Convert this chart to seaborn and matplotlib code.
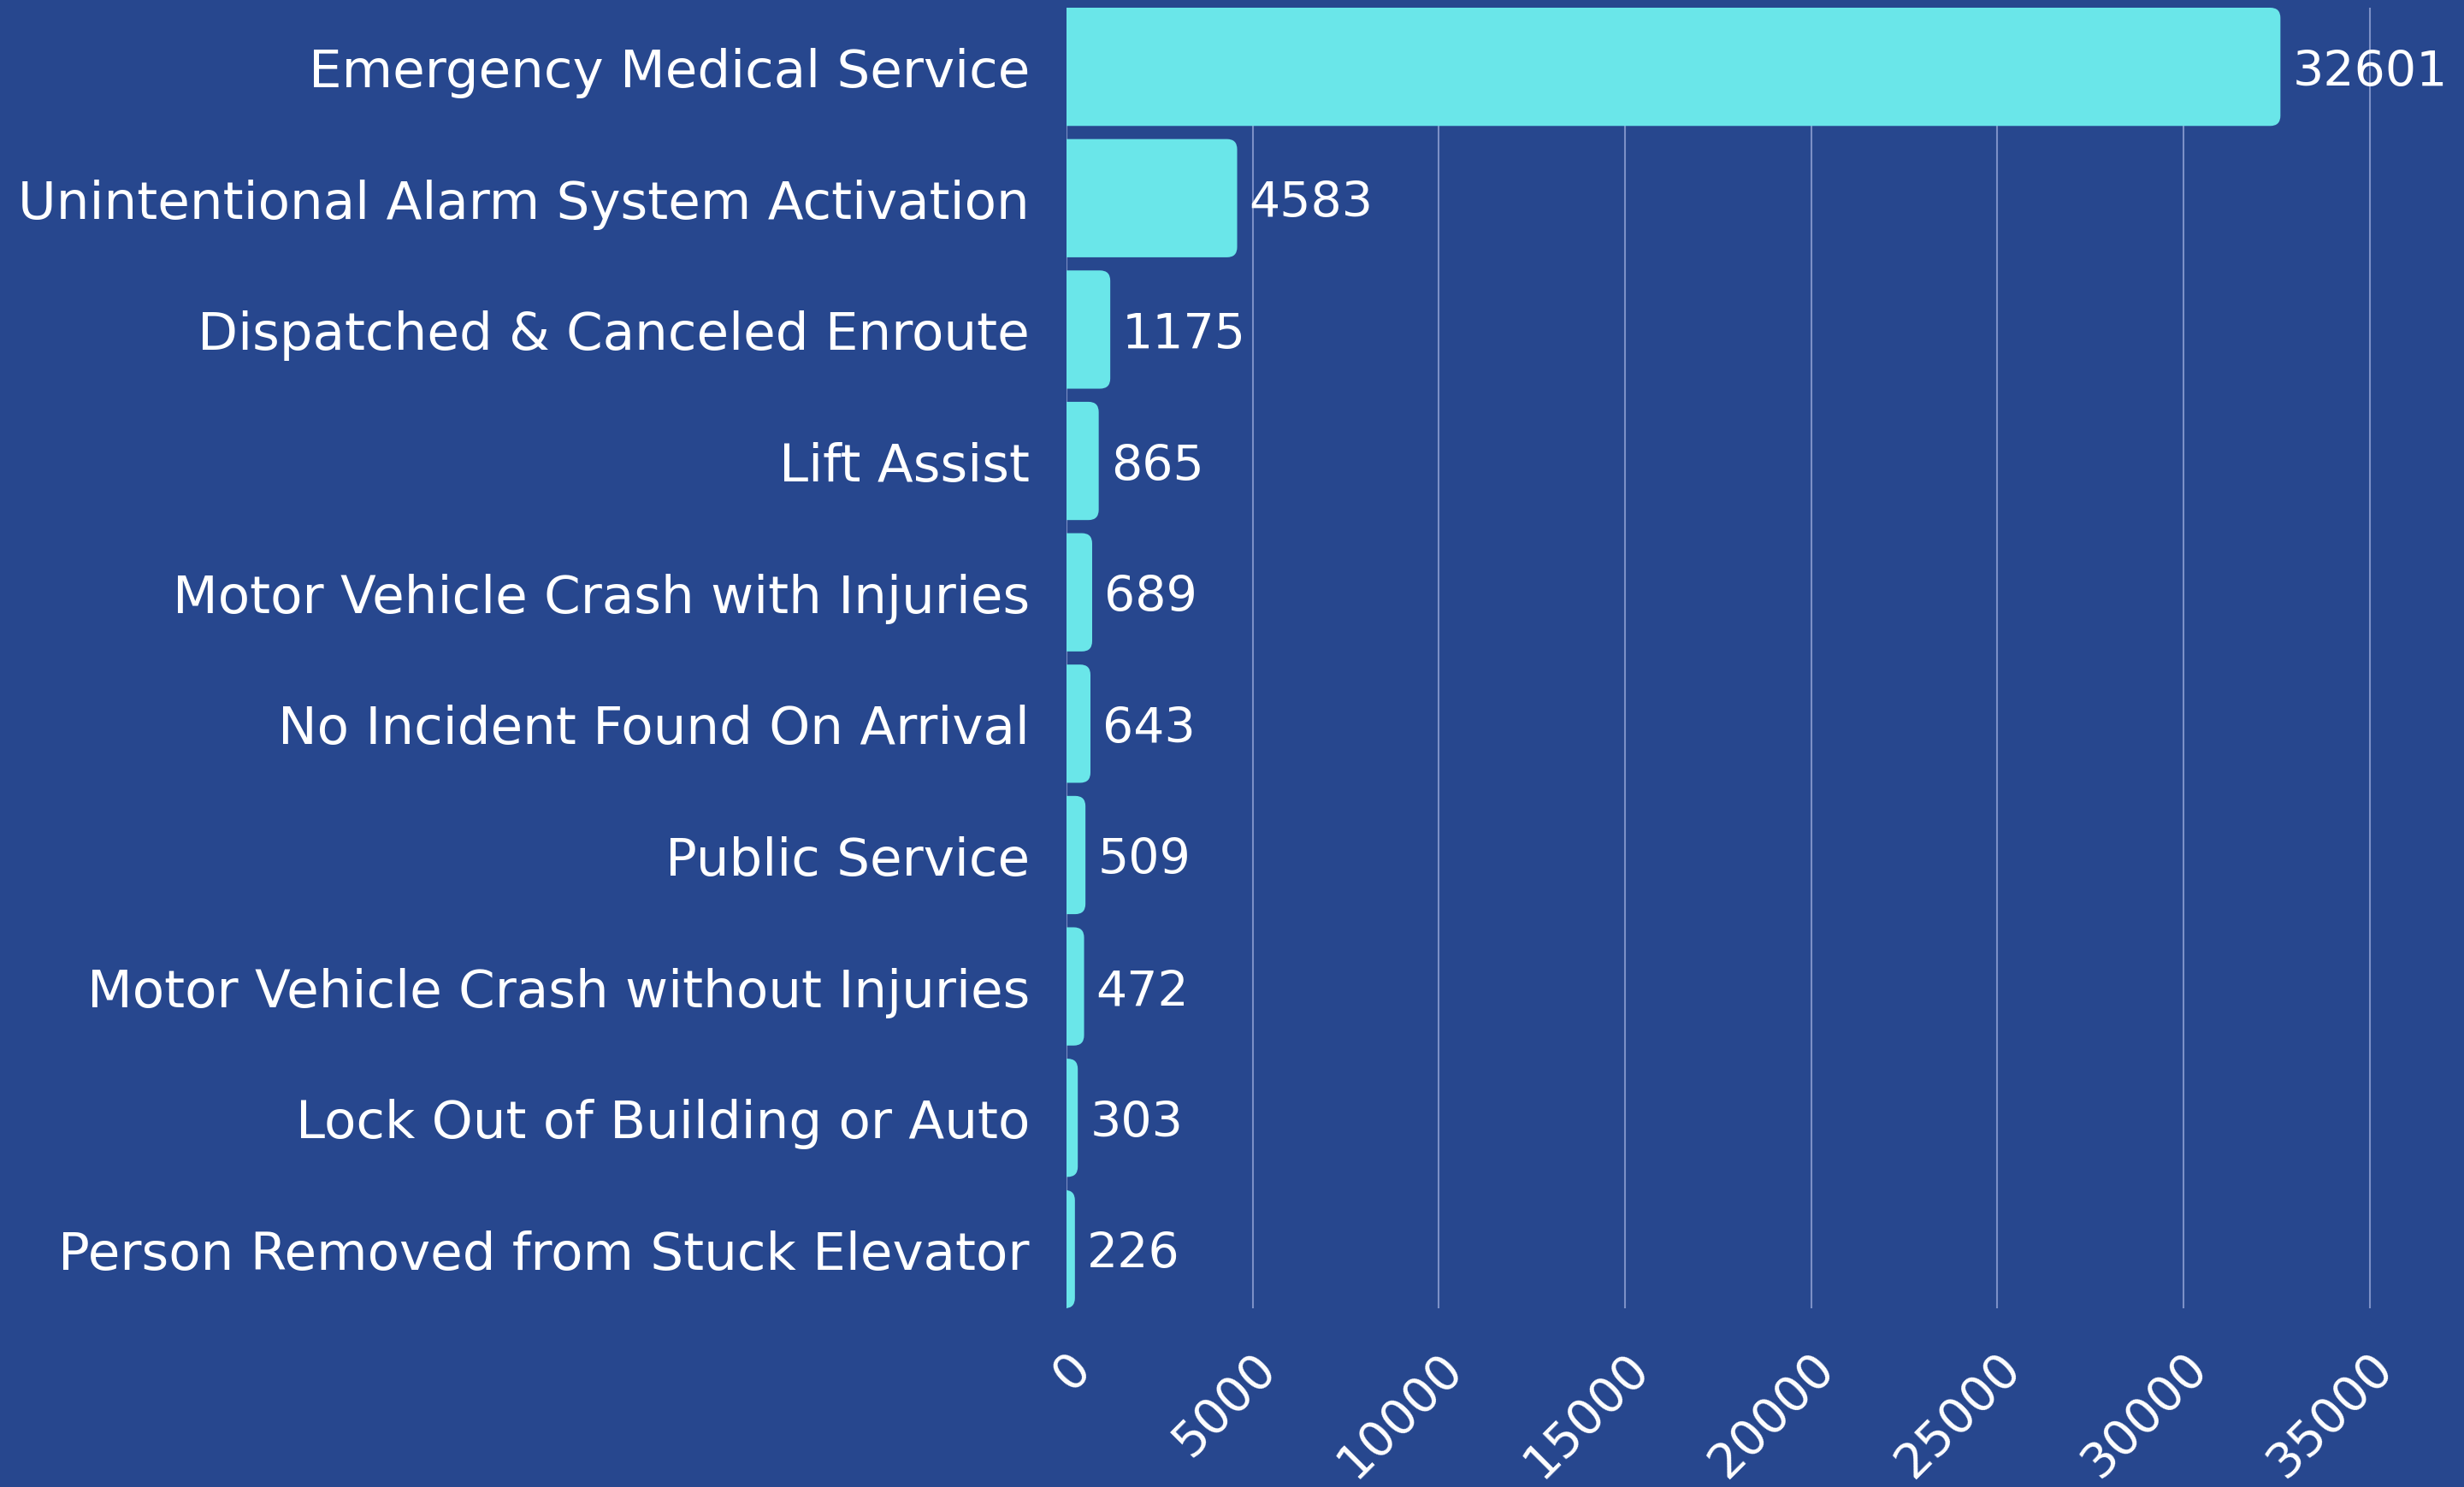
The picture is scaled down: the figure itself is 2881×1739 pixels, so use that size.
import matplotlib
matplotlib.use("Agg")
import matplotlib.pyplot as plt
import seaborn as sns
import pandas as pd
from matplotlib.patches import FancyBboxPatch

categories = [
    "Emergency Medical Service",
    "Unintentional Alarm System Activation",
    "Dispatched & Canceled Enroute",
    "Lift Assist",
    "Motor Vehicle Crash with Injuries",
    "No Incident Found On Arrival",
    "Public Service",
    "Motor Vehicle Crash without Injuries",
    "Lock Out of Building or Auto",
    "Person Removed from Stuck Elevator",
]
counts = [32601, 4583, 1175, 865, 689, 643, 509, 472, 303, 226]
x_ticks = [0, 5000, 10000, 15000, 20000, 25000, 30000, 35000]

BG = "#27478E"
BAR = "#6AE6E9"
GRID = "#7C90C6"

sns.set_theme(style="white")
plt.rcParams["font.family"] = ["DejaVu Sans"]

df = pd.DataFrame({"category": categories, "count": counts})

fig = plt.figure(figsize=(28.81, 17.40), dpi=100, facecolor=BG)
ax = fig.add_axes([1247 / 2881, 1 - 1531 / 1740, 1600 / 2881, 1521 / 1740])
ax.set_facecolor(BG)

sns.barplot(data=df, x="count", y="category", color=BAR, width=0.9,
            saturation=1, ax=ax, zorder=3)

xmax = 36750
ax.set_xlim(0, xmax)
ax.set_ylim(len(categories) - 0.55, -0.45)

# swap the square bars for rounded ones
px_x = xmax / 1600
px_y = (len(categories) - 0.1) / 1521
r_px = 12
for p in list(ax.patches):
    x0, y0 = p.get_x(), p.get_y()
    w, h = p.get_width(), p.get_height()
    p.remove()
    rb = FancyBboxPatch((x0 - 40 * px_x, y0), w + 40 * px_x, h,
                        boxstyle=f"round,pad=0,rounding_size={r_px * px_x}",
                        mutation_aspect=px_y / px_x,
                        facecolor=BAR, edgecolor="none", zorder=3)
    ax.add_patch(rb)

for i, v in enumerate(counts):
    ax.text(v + 14 * px_x, i, f"{v}", va="center_baseline", ha="left",
            color="white", fontsize=41, zorder=4)

ax.set_xticks(x_ticks)
ax.set_xticklabels([str(t) for t in x_ticks], rotation=45, ha="right",
                   rotation_mode="anchor", color="white", fontsize=41)
ax.tick_params(axis="x", length=0, pad=30)
ax.tick_params(axis="y", length=0, pad=31, labelsize=44, labelcolor="white")
ax.set_xlabel("")
ax.set_ylabel("")
ax.xaxis.grid(True, color=GRID, linewidth=1.5, zorder=0)
ax.set_axisbelow(True)
for s in ax.spines.values():
    s.set_visible(False)

fig.savefig("out.png", dpi=100, facecolor=BG)
